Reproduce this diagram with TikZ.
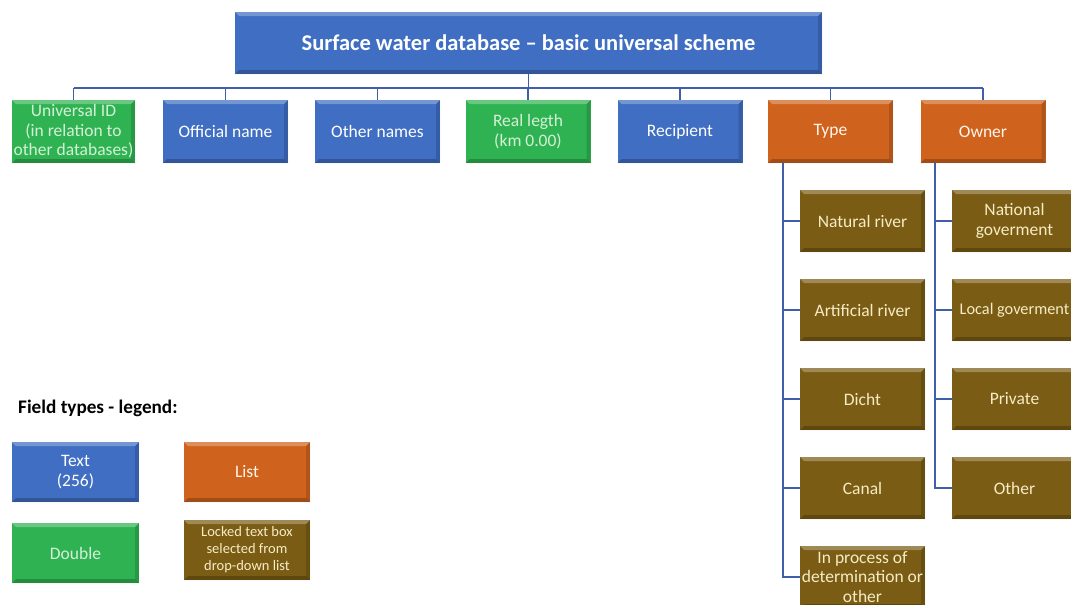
\documentclass[tikz,border=0pt]{standalone}
\usepackage{fontspec}
\setmainfont{Carlito}
\usetikzlibrary{calc}
\definecolor{bxblue}{HTML}{3F6EC2}
\definecolor{bxgreen}{HTML}{2FB352}
\definecolor{bxorange}{HTML}{CF631E}
\definecolor{bxolive}{HTML}{7A5C15}
\definecolor{lnblue}{HTML}{3F5FA8}
\definecolor{txgreen}{HTML}{D4F0D6}
\definecolor{txolive}{HTML}{F6ECC4}
\tikzset{
  bevel/.style={path picture={
    \fill[white,opacity=0.28] (path picture bounding box.north west) -- (path picture bounding box.north east) -- ($(path picture bounding box.north east)+(-4pt,-4pt)$) -- ($(path picture bounding box.north west)+(4pt,-4pt)$) -- cycle;
    \fill[black,opacity=0.22] (path picture bounding box.south west) -- (path picture bounding box.south east) -- ($(path picture bounding box.south east)+(-4pt,4pt)$) -- ($(path picture bounding box.south west)+(4pt,4pt)$) -- cycle;
    \fill[black,opacity=0.15] (path picture bounding box.north east) -- (path picture bounding box.south east) -- ($(path picture bounding box.south east)+(-4pt,4pt)$) -- ($(path picture bounding box.north east)+(-4pt,-4pt)$) -- cycle;
  }},
  fbox/.style={rectangle, bevel, minimum width=125pt, minimum height=63pt, inner sep=0pt, align=center, font=\fontsize{17.5}{20}\selectfont},
  bluebox/.style={fbox, fill=bxblue, text=white},
  greenbox/.style={fbox, fill=bxgreen, text=txgreen},
  orangebox/.style={fbox, fill=bxorange, text=white!92!orange},
  olivebox/.style={fbox, fill=bxolive, text=txolive},
  conn/.style={draw=lnblue, line width=1.3pt},
}
\begin{document}
\begin{tikzpicture}[x=1pt,y=-1pt]
\useasboundingbox (0,0) rectangle (1071,605);
\fill[white] (0,0) rectangle (1071,605);
% title
\node[bluebox, minimum width=587pt, minimum height=62pt, font=\bfseries\fontsize{22.5}{26}\selectfont] (title) at (528.5,43) {Surface water database -- basic universal scheme};
% first row
\node[greenbox, minimum width=123pt, font=\fontsize{17.5}{19.5}\selectfont] (uid) at (73.5,131.5) {Universal ID\\(in relation to\\other databases)};
\node[bluebox] (off) at (225.5,131.5) {Official name};
\node[bluebox] (oth) at (377.5,131.5) {Other names};
\node[greenbox] (len) at (528,131.5) {Real legth\\(km 0.00)};
\node[bluebox] (rec) at (680,131.5) {Recipient};
\node[orangebox] (typ) at (830.5,131.5) {Type};
\node[orangebox] (own) at (983,131.5) {Owner};
% bus
\coordinate (busL) at (73.5,88);
\coordinate (busR) at (983,88);
\draw[conn] (busL) -- (busR);
\draw[conn] (title.south) -- (title.south |- busL);
\foreach \n in {uid,off,oth,len,rec,typ,own}{\draw[conn] (\n.north) -- (\n.north |- busL);}
% type children
\node[olivebox, minimum height=62pt] (nat) at (862.5,221) {Natural river};
\node[olivebox, minimum height=62pt] (art) at (862.5,310) {Artificial river};
\node[olivebox, minimum height=62pt] (dic) at (862.5,399) {Dicht};
\node[olivebox, minimum height=62pt] (can) at (862.5,488) {Canal};
\node[olivebox, minimum height=62pt, font=\fontsize{17.5}{19.5}\selectfont] (inp) at (862.5,577) {In process of\\determination or\\other};
% owner children
\node[olivebox, minimum height=62pt] (nat2) at (1014.5,221) {National\\goverment};
\node[olivebox, minimum height=62pt, font=\fontsize{16.3}{19}\selectfont] (loc) at (1014.5,310) {Local goverment};
\node[olivebox, minimum height=62pt] (pri) at (1014.5,399) {Private};
\node[olivebox, minimum height=62pt] (oth2) at (1014.5,488) {Other};
% type connectors
\coordinate (tv) at (783,163);
\draw[conn] (typ.south -| tv) -- (tv |- inp.west) -- (inp.west);
\foreach \n in {nat,art,dic,can}{\draw[conn] (tv |- \n.west) -- (\n.west);}
% owner connectors
\coordinate (ov) at (935,163);
\draw[conn] (own.south -| ov) -- (ov |- oth2.west) -- (oth2.west);
\foreach \n in {nat2,loc,pri}{\draw[conn] (ov |- \n.west) -- (\n.west);}
% legend
\node[anchor=west, font=\bfseries\fontsize{19.2}{21}\selectfont, inner sep=0pt] (legt) at (18,408) {Field types - legend:};
\node[bluebox, minimum width=127pt, minimum height=60pt] (ltext) at (75.5,472) {Text\\(256)};
\node[orangebox, minimum width=126pt, minimum height=60pt] (llist) at (247,472) {List};
\node[greenbox, minimum width=127pt, minimum height=60pt] (ldbl) at (75.5,553) {Double};
\node[olivebox, minimum width=126pt, minimum height=60pt, font=\fontsize{14.5}{17}\selectfont] (llock) at (247,550) {Locked text box\\selected from\\drop-down list};
\end{tikzpicture}
\end{document}
